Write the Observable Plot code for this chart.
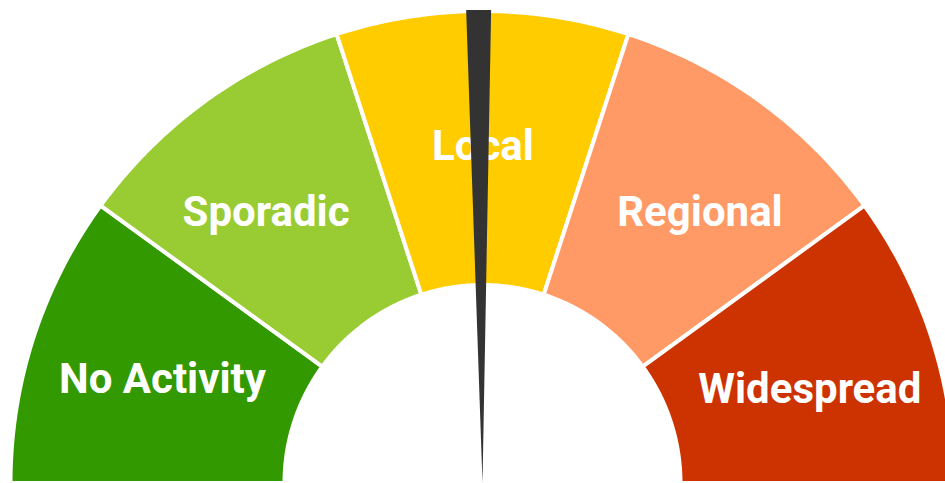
<!DOCTYPE html>
<html>
<head>
<meta charset="utf-8">
<script src="https://cdn.jsdelivr.net/npm/d3@7"></script>
<script src="https://cdn.jsdelivr.net/npm/@observablehq/plot@0.6"></script>
<style>
  html, body { margin: 0; padding: 0; background: #ffffff; }
  #chart svg { display: block; }
</style>
</head>
<body>
<div id="chart"></div>
<script>
// ---- data ----
const categories = ["No Activity", "Sporadic", "Local", "Regional", "Widespread"];
const segmentColors = ["#339900", "#99cc33", "#ffcc00", "#ff9966", "#cc3300"];
const needleValue = 2.487; // on a 0–5 scale (level index), slightly left of "Local" middle
const scaleMax = 5;

// ---- layout (pixel units, y measured upward from gauge centre) ----
const W = 945, H = 483;
const cx = 482.5;
const rOuter = 472, rInner = 198;
const rad = d => d * Math.PI / 180;
const angleOf = v => 180 - (v / scaleMax) * 180; // degrees, 180 = left, 0 = right

// annular sectors
const segRows = [];
categories.forEach((cat, i) => {
  const a0 = angleOf(i), a1 = angleOf(i + 1);
  const n = 80;
  for (let k = 0; k <= n; k++) {
    const a = rad(a0 + (a1 - a0) * k / n);
    segRows.push({
      cat,
      x1: cx + rOuter * Math.cos(a), y1: rOuter * Math.sin(a),
      x2: cx + rInner * Math.cos(a), y2: rInner * Math.sin(a)
    });
  }
});

// labels at segment middles (small angular nudges to match the original placement)
const labelNudge = [0, 2.7, 0, -2.7, -2];
const labelRadius = [337, 347, 337, 347, 340];
const labelRows = categories.map((cat, i) => {
  const a = rad(angleOf(i + 0.5) + labelNudge[i]);
  return { cat, x: cx + labelRadius[i] * Math.cos(a), y: labelRadius[i] * Math.sin(a) };
});

// needle: thin wedge from the centre out past the rim
const th = rad(angleOf(needleValue));
const needleLen = 473, needleHalfW = 12.5;
const tipX = cx + needleLen * Math.cos(th), tipY = needleLen * Math.sin(th);
const px = -Math.sin(th), py = Math.cos(th);
const needleRows = [
  { x1: cx, y1: 0, x2: cx, y2: 0 },
  { x1: tipX + needleHalfW * px, y1: tipY + needleHalfW * py,
    x2: tipX - needleHalfW * px, y2: tipY - needleHalfW * py }
];

const chart = Plot.plot({
  width: W,
  height: H,
  margin: 0,
  style: { background: "#ffffff", overflow: "visible" },
  x: { domain: [0, W], range: [0, W], axis: null },
  y: { domain: [0, H], range: [H, 0], axis: null },
  color: { domain: categories, range: segmentColors },
  marks: [
    Plot.area(segRows, {
      x1: "x1", y1: "y1", x2: "x2", y2: "y2",
      z: "cat", fill: "cat", stroke: "#ffffff", strokeWidth: 4, strokeLinejoin: "miter"
    }),
    Plot.text(labelRows, {
      x: "x", y: "y", text: "cat",
      fill: "#ffffff", fontSize: 42, fontWeight: "bold",
      fontFamily: "Roboto, 'Liberation Sans', sans-serif",
      textAnchor: "middle", lineAnchor: "middle"
    }),
    Plot.area(needleRows, {
      x1: "x1", y1: "y1", x2: "x2", y2: "y2",
      fill: "#333333"
    })
  ]
});

document.getElementById("chart").appendChild(chart);
</script>
</body>
</html>
